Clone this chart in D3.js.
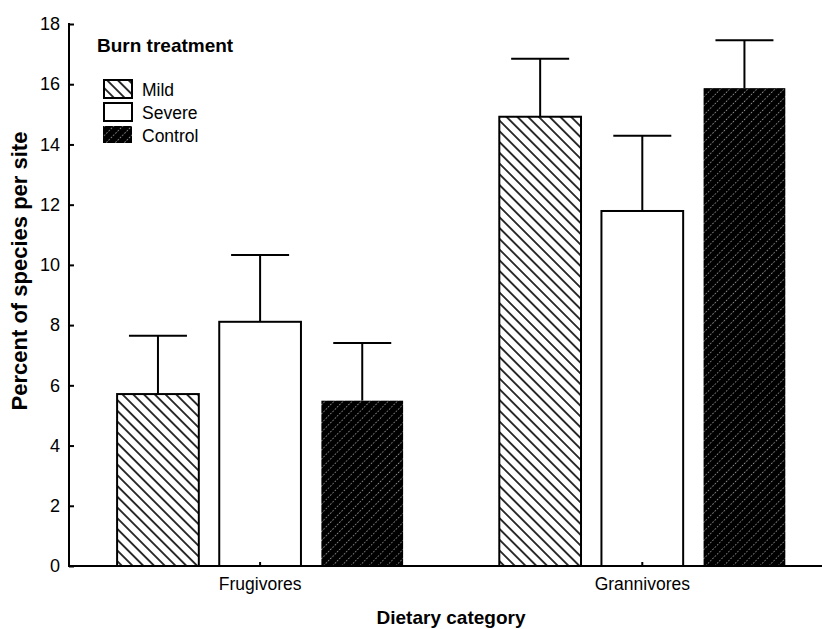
<!DOCTYPE html>
<html>
<head>
<meta charset="utf-8">
<script src="https://cdn.jsdelivr.net/npm/d3@7"></script>
<style>
  html, body { margin: 0; padding: 0; background: #fff; }
  svg { display: block; font-family: "Liberation Sans", Arial, sans-serif; }
</style>
</head>
<body>
<svg id="chart" width="822" height="629"></svg>
<script>
// Dietary categories and burn treatments
const categories = ["Frugivores", "Grannivores"];
const treatments = ["Mild", "Severe", "Control"];

// Mean percent of species per site, one value per category
const mildMean = [5.71, 14.92];
const severeMean = [8.11, 11.79];
const controlMean = [5.49, 15.87];

// Standard errors (upper whisker only)
const mildSE = [1.94, 1.93];
const severeSE = [2.22, 2.50];
const controlSE = [1.92, 1.59];

const yTicks = [0, 2, 4, 6, 8, 10, 12, 14, 16, 18];

const series = [
  { name: "Mild", mean: mildMean, se: mildSE },
  { name: "Severe", mean: severeMean, se: severeSE },
  { name: "Control", mean: controlMean, se: controlSE }
];

const svg = d3.select("#chart");

const plot = { left: 69, right: 833.4, top: 24, bottom: 566 };

// Fill patterns
const defs = svg.append("defs");
const mildPat = defs.append("pattern")
  .attr("id", "pat-mild").attr("patternUnits", "userSpaceOnUse")
  .attr("width", 7.6).attr("height", 7.6)
  .attr("patternTransform", "rotate(45)");
mildPat.append("rect").attr("width", 7.6).attr("height", 7.6).attr("fill", "#fff");
mildPat.append("line").attr("x1", -1).attr("x2", 9).attr("y1", 3.8).attr("y2", 3.8)
  .attr("stroke", "#000").attr("stroke-width", 1.6);

const ctrlPat = defs.append("pattern")
  .attr("id", "pat-control").attr("patternUnits", "userSpaceOnUse")
  .attr("width", 6.4).attr("height", 6.4)
  .attr("patternTransform", "rotate(-45)");
ctrlPat.append("rect").attr("width", 6.4).attr("height", 6.4).attr("fill", "#000");
ctrlPat.append("line").attr("x1", 0).attr("x2", 6.4).attr("y1", 3.2).attr("y2", 3.2)
  .attr("stroke", "#fff").attr("stroke-width", 0.6).attr("stroke-dasharray", "1.6,1.6")
  .attr("opacity", 0.85);

const fills = { Mild: "url(#pat-mild)", Severe: "#fff", Control: "url(#pat-control)" };
const strokes = { Mild: "#000", Severe: "#000", Control: "none" };

// Scales
const x0 = d3.scaleBand().domain(categories).range([plot.left, plot.right]).padding(0);
const groupWidth = 286;
const x1 = d3.scaleBand().domain(treatments).range([-groupWidth / 2, groupWidth / 2]).paddingInner(0.2).paddingOuter(0);
const y = d3.scaleLinear().domain([0, 18]).range([plot.bottom, plot.top]);

// Bars
const groups = svg.append("g").selectAll("g")
  .data(categories)
  .join("g")
  .attr("transform", c => `translate(${x0(c) + x0.bandwidth() / 2},0)`);

groups.each(function (c, ci) {
  const g = d3.select(this);
  series.forEach(s => {
    const v = s.mean[ci];
    const bx = x1(s.name);
    const cx = bx + x1.bandwidth() / 2;
    const top = y(v + s.se[ci]);
    // error whisker
    g.append("line").attr("x1", cx).attr("x2", cx).attr("y1", y(v)).attr("y2", top)
      .attr("stroke", "#000").attr("stroke-width", 2);
    g.append("line").attr("x1", cx - 29).attr("x2", cx + 29).attr("y1", top).attr("y2", top)
      .attr("stroke", "#000").attr("stroke-width", 2);
    g.append("rect")
      .attr("x", bx).attr("y", y(v))
      .attr("width", x1.bandwidth()).attr("height", y(0) - y(v))
      .attr("fill", fills[s.name])
      .attr("stroke", strokes[s.name]).attr("stroke-width", 2);
  });
});

// Y axis
const yAxis = d3.axisLeft(y).tickValues(yTicks).tickSizeInner(-5).tickSizeOuter(0).tickPadding(9);
const yg = svg.append("g").attr("transform", `translate(${plot.left},0)`).call(yAxis);
yg.select(".domain").attr("stroke-width", 2).attr("d", `M0,${plot.top - 1}V${plot.bottom}`);
yg.selectAll(".tick line").attr("stroke-width", 2);
yg.selectAll(".tick text").attr("font-size", 18).attr("font-family", "Liberation Sans, Arial, sans-serif").attr("fill", "#000");

// X axis
const xAxis = d3.axisBottom(x0).tickSizeInner(-4).tickSizeOuter(0).tickPadding(12);
const xg = svg.append("g").attr("transform", `translate(0,${plot.bottom})`).call(xAxis);
xg.select(".domain").attr("stroke-width", 2).attr("d", `M${plot.left - 1},0H822`);
xg.selectAll(".tick line").attr("stroke-width", 2);
xg.selectAll(".tick text").attr("font-size", 17.5).attr("font-family", "Liberation Sans, Arial, sans-serif").attr("fill", "#000");

// Axis titles
svg.append("text").attr("x", 451).attr("y", 624).attr("text-anchor", "middle")
  .attr("font-size", 19).attr("font-weight", "bold").text("Dietary category");
svg.append("text").attr("transform", "translate(27,271) rotate(-90)").attr("text-anchor", "middle")
  .attr("font-size", 22).attr("font-weight", "bold").text("Percent of species per site");

// Legend
const legend = svg.append("g");
legend.append("text").attr("x", 97).attr("y", 52).attr("font-size", 19).attr("font-weight", "bold")
  .text("Burn treatment");
const legY = [80, 103, 126];
treatments.forEach((t, i) => {
  legend.append("rect")
    .attr("x", t === "Control" ? 103 : 104).attr("y", legY[i])
    .attr("width", t === "Control" ? 29 : 28).attr("height", t === "Control" ? 17 : 18)
    .attr("fill", fills[t]).attr("stroke", strokes[t]).attr("stroke-width", 2);
  legend.append("text").attr("x", 142).attr("y", legY[i] + 16)
    .attr("font-size", 17.5).text(t);
});
</script>
</body>
</html>
